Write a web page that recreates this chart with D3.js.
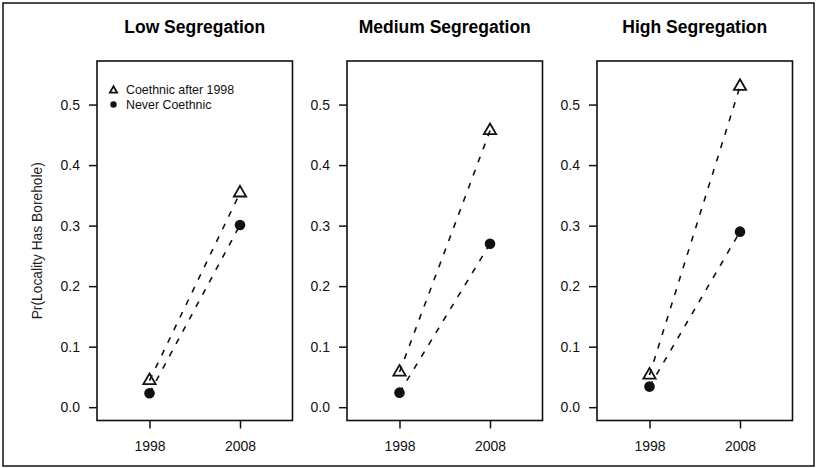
<!DOCTYPE html>
<html>
<head>
<meta charset="utf-8">
<script src="https://cdn.jsdelivr.net/npm/d3@7/dist/d3.min.js"></script>
<style>
  html, body { margin: 0; padding: 0; background: #fff; }
  svg { display: block; font-family: "Liberation Sans", Arial, Helvetica, sans-serif; }
</style>
</head>
<body>
<svg id="chart" width="819" height="468"></svg>
<script>
// ---- data ----
const panels = ["Low Segregation", "Medium Segregation", "High Segregation"];
const years = [1998, 2008];
const coethnic = [[0.044, 0.354], [0.058, 0.457], [0.053, 0.530]];   // Coethnic after 1998
const never = [[0.023, 0.301], [0.024, 0.270], [0.034, 0.290]];      // Never Coethnic
const yTicks = [0, 0.1, 0.2, 0.3, 0.4, 0.5];
const seriesNames = ["Coethnic after 1998", "Never Coethnic"];

const svg = d3.select("#chart");

// outer frame
svg.append("rect").attr("x", 3).attr("y", 3).attr("width", 811).attr("height", 463)
  .attr("fill", "none").attr("stroke", "#111").attr("stroke-width", 1.5);

const panelLeft = [97, 347, 597];
const pw = 195.5, plotTop = 61, plotBottom = 420.5;

const y = d3.scaleLinear().domain([-0.022, 0.572]).range([plotBottom, plotTop]);

function triPath(r) {
  const xc = r * 0.866, yc = r * 0.5;
  return `M0,${-r}L${xc},${yc}L${-xc},${yc}Z`;
}

panels.forEach((title, i) => {
  const x0 = panelLeft[i];
  const x = d3.scaleLinear().domain([1992.2, 2013.8]).range([x0, x0 + pw]);
  const g = svg.append("g");

  // title
  g.append("text").attr("x", x0 + pw / 2).attr("y", 33)
    .attr("text-anchor", "middle").attr("font-weight", "bold")
    .attr("font-size", 17.5).text(title);

  // y axis
  const ya = g.append("g").attr("transform", `translate(${x0},0)`)
    .call(d3.axisLeft(y).tickValues(yTicks).tickFormat(d3.format(".1f")).tickSize(8).tickPadding(9));
  ya.select(".domain").remove();
  ya.selectAll("line").attr("stroke", "#111").attr("stroke-width", 1.5);
  ya.selectAll("text").attr("font-size", 14).attr("fill", "#111")
    .attr("font-family", "Liberation Sans, Arial, sans-serif");

  // x axis
  const xa = g.append("g").attr("transform", `translate(0,${plotBottom})`)
    .call(d3.axisBottom(x).tickValues(years).tickFormat(d3.format("d")).tickSize(8).tickPadding(13));
  xa.select(".domain").remove();
  xa.selectAll("line").attr("stroke", "#111").attr("stroke-width", 1.5);
  xa.selectAll("text").attr("font-size", 14).attr("fill", "#111")
    .attr("font-family", "Liberation Sans, Arial, sans-serif");

  // box
  g.append("rect").attr("x", x0).attr("y", plotTop).attr("width", pw).attr("height", plotBottom - plotTop)
    .attr("fill", "none").attr("stroke", "#111").attr("stroke-width", 1.6);

  const line = d3.line().x((d, j) => x(years[j])).y(d => y(d));

  [coethnic[i], never[i]].forEach(vals => {
    g.append("path").attr("d", line(vals)).attr("fill", "none")
      .attr("stroke", "#111").attr("stroke-width", 1.6).attr("stroke-dasharray", "6,8");
  });

  coethnic[i].forEach((v, j) => {
    g.append("path").attr("d", triPath(7.1))
      .attr("transform", `translate(${x(years[j])},${y(v)})`)
      .attr("fill", "none").attr("stroke", "#111").attr("stroke-width", 1.8)
      .attr("stroke-linejoin", "miter");
  });
  never[i].forEach((v, j) => {
    g.append("circle").attr("cx", x(years[j])).attr("cy", y(v)).attr("r", 5.3)
      .attr("fill", "#111");
  });

  if (i === 0) {
    // legend
    const lg = g.append("g");
    lg.append("path").attr("d", triPath(4.2)).attr("transform", "translate(113.5,90.5)")
      .attr("fill", "none").attr("stroke", "#111").attr("stroke-width", 1.8);
    lg.append("circle").attr("cx", 113.5).attr("cy", 104.5).attr("r", 3.2).attr("fill", "#111");
    lg.append("text").attr("x", 126).attr("y", 90).attr("dy", "0.35em")
      .attr("font-size", 12.4).attr("fill", "#111").text(seriesNames[0]);
    lg.append("text").attr("x", 126).attr("y", 104.5).attr("dy", "0.35em")
      .attr("font-size", 12.4).attr("fill", "#111").text(seriesNames[1]);
  }
});

// y label
svg.append("text").attr("transform", `translate(42,${(plotTop + plotBottom) / 2}) rotate(-90)`)
  .attr("text-anchor", "middle").attr("font-size", 13.8).attr("fill", "#222")
  .text("Pr(Locality Has Borehole)");
</script>
</body>
</html>
